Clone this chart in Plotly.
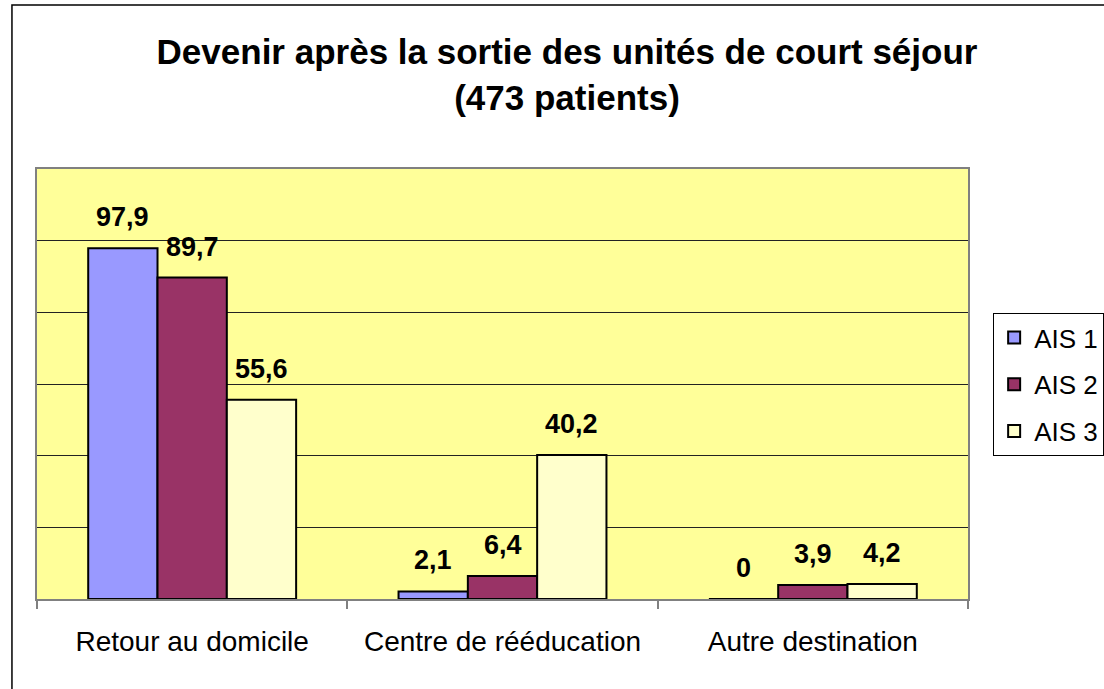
import plotly.graph_objects as go

categories = ["Retour au domicile", "Centre de rééducation", "Autre destination"]
series_names = ["AIS 1", "AIS 2", "AIS 3"]
ais1 = [97.9, 2.1, 0]
ais2 = [89.7, 6.4, 3.9]
ais3 = [55.6, 40.2, 4.2]
series_values = [ais1, ais2, ais3]
colors = ["#9999FF", "#993366", "#FFFFCC"]

FONT = "Arial, Liberation Sans, sans-serif"
BARGAP = 0.33

fig = go.Figure()
for name, vals, col in zip(series_names, series_values, colors):
    fig.add_trace(go.Bar(
        name=name, x=categories, y=vals, legendgroup=name,
        marker=dict(color=col, line=dict(color="black", width=2)),
        hoverinfo="skip",
    ))

# data labels
nser = len(series_values)
bw = (1 - BARGAP) / nser
for i, vals in enumerate(series_values):
    for j, v in enumerate(vals):
        fig.add_annotation(
            x=j + (i - (nser - 1) / 2) * bw, y=v, xref="x", yref="y",
            text=f"{v:g}".replace(".", ","), showarrow=False,
            yanchor="bottom", yshift=14,
            font=dict(family=FONT, size=27, color="black", weight="bold"),
        )

# outer chart border
fig.add_shape(type="rect", xref="paper", yref="paper",
              x0=-0.0269, x1=1.16, y0=-0.23, y1=1.3814,
              line=dict(color="black", width=1.5), fillcolor="rgba(0,0,0,0)",
              layer="below")

W, H = 1104, 689

fig.update_layout(
    width=W, height=H,
    margin=dict(l=37, r=136, t=169, b=90, autoexpand=False),
    paper_bgcolor="white", plot_bgcolor="#FFFF99",
    barmode="group", bargap=BARGAP, bargroupgap=0,
    title=dict(
        text="Devenir après la sortie des unités de court séjour<br>(473 patients)",
        x=567 / W, xref="container", xanchor="center",
        y=1 - 64 / H, yref="container", yanchor="middle",
        font=dict(family=FONT, size=35, color="black", weight="bold"),
    ),
    legend=dict(
        x=1.027, y=0.665, xanchor="left", yanchor="top",
        bordercolor="black", borderwidth=1, bgcolor="white",
        font=dict(family=FONT, size=26, color="black"),
        tracegroupgap=10, itemwidth=30,
    ),
    showlegend=True,
)
fig.update_xaxes(
    type="category", tickson="boundaries", ticks="outside", ticklen=8,
    tickcolor="#808080", tickwidth=1.5,
    showline=True, linecolor="#808080", linewidth=2, mirror=True,
    showgrid=False, ticklabelstandoff=16,
    tickfont=dict(family=FONT, size=28, color="black"),
)
fig.update_yaxes(
    range=[0, 120], dtick=20, showticklabels=False,
    showgrid=True, gridcolor="#222222", gridwidth=1,
    showline=True, linecolor="#808080", linewidth=2, mirror=True,
    zeroline=False, ticks="",
)

# remove the default 8px page margin so the figure starts at the window corner
fig.write_html("out.html", config={"displayModeBar": False},
               post_script="document.body.style.margin='0';")
